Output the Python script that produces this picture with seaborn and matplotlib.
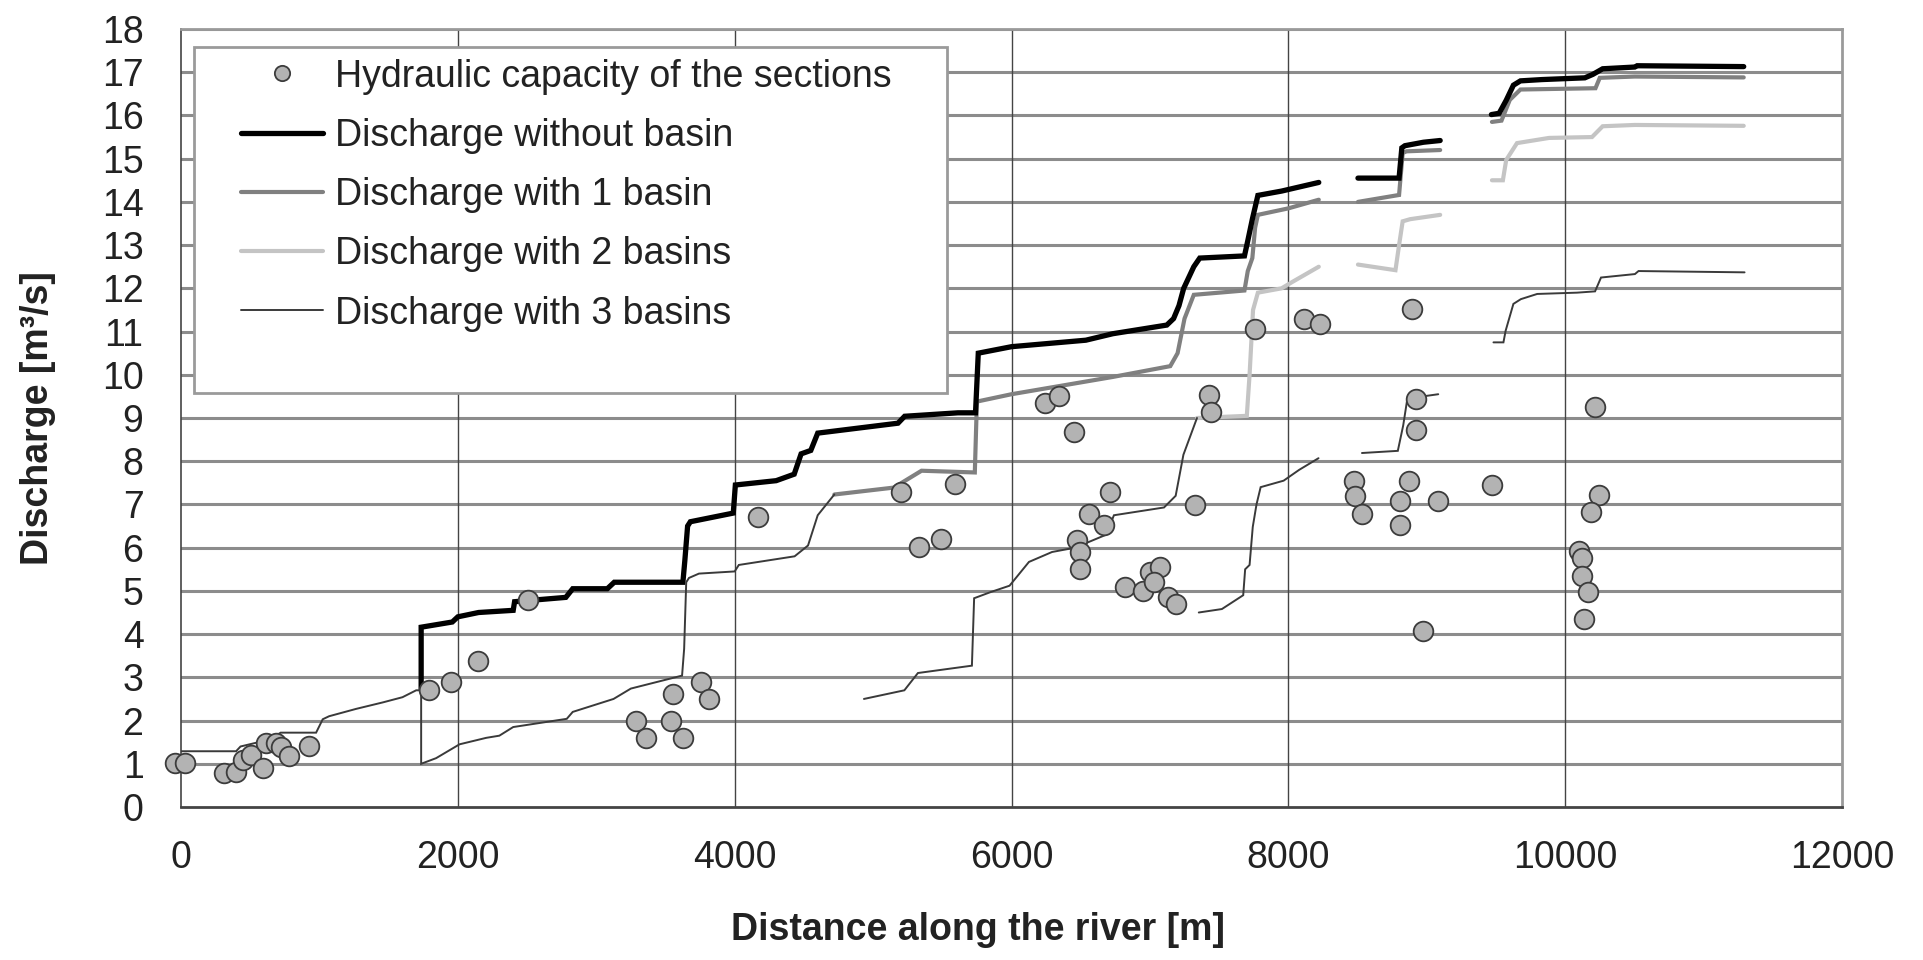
import numpy as np
import pandas as pd
import matplotlib
matplotlib.use("Agg")
import matplotlib.pyplot as plt
from matplotlib.lines import Line2D
from matplotlib.patches import Rectangle
import seaborn as sns

# ---------------- data ----------------
# Hydraulic capacity of the sections (circles)
cap_x = [-40, 30, 313, 398, 446, 506, 590, 615, 687, 723, 783, 928, 1795, 1952, 2145, 2509,
         3285, 3358, 3539, 3551, 3624, 3757, 3818, 4170, 5200, 5590, 5330, 5490, 6240, 6343,
         6450, 6711, 6558, 6670, 6474, 6494, 6494, 6823, 6949, 7004, 7074, 7032, 7130, 7186,
         7325, 7430, 7444, 7761, 8110, 8232, 8890, 8920, 8920, 8478, 8485, 8533, 8870, 8810,
         8810, 9080, 9475, 8975, 10216, 10245, 10187, 10101, 10121, 10121, 10167, 10138]
cap_y = [1.02, 1.02, 0.78, 0.80, 1.09, 1.21, 0.90, 1.48, 1.48, 1.39, 1.17, 1.41, 2.70, 2.90,
         3.38, 4.78, 2.0, 1.6, 2.0, 2.62, 1.6, 2.9, 2.5, 6.72, 7.28, 7.47, 6.01, 6.21, 9.35,
         9.52, 8.68, 7.29, 6.78, 6.53, 6.18, 5.89, 5.51, 5.08, 5.0, 5.43, 5.55, 5.2, 4.85,
         4.69, 6.98, 9.53, 9.13, 11.05, 11.29, 11.18, 11.53, 9.45, 8.72, 7.55, 7.2, 6.77,
         7.54, 7.09, 6.52, 7.09, 7.46, 4.07, 9.26, 7.21, 6.83, 5.92, 5.75, 5.35, 4.98, 4.35]

# Discharge without basin (segments)
q0_seg1_x = [1735, 1735, 1960, 2000, 2150, 2400, 2410, 2780, 2830, 3080, 3130, 3626, 3640, 3660,
             3680, 3990, 4005, 4300, 4430, 4480, 4550, 4600, 5180, 5228, 5613, 5740, 5760, 6000,
             6537, 6732, 7122, 7171, 7210, 7244, 7317, 7360, 7683, 7707, 7740, 7780, 7951, 8220]
q0_seg1_y = [2.73, 4.16, 4.28, 4.4, 4.5, 4.55, 4.75, 4.85, 5.05, 5.05, 5.2, 5.2, 5.7, 6.5,
             6.6, 6.8, 7.45, 7.55, 7.7, 8.17, 8.25, 8.65, 8.88, 9.04, 9.12, 9.12, 10.5, 10.65,
             10.8, 10.95, 11.15, 11.3, 11.6, 12.0, 12.5, 12.7, 12.75, 13.1, 13.6, 14.15, 14.25, 14.45]
q0_seg2_x = [8503, 8800, 8820, 8842, 8976, 9097]
q0_seg2_y = [14.55, 14.55, 15.25, 15.3, 15.38, 15.42]
q0_seg3_x = [9467, 9523, 9574, 9626, 9677, 9832, 10142, 10200, 10271, 10503, 10520, 11290]
q0_seg3_y = [16.02, 16.05, 16.35, 16.7, 16.8, 16.83, 16.87, 16.95, 17.08, 17.12, 17.15, 17.13]

# Discharge with 1 basin
q1_seg1_x = [4720, 5150, 5350, 5735, 5750, 6000, 6366, 6732, 7147, 7200, 7250, 7317, 7683,
             7707, 7740, 7760, 7780, 8000, 8220]
q1_seg1_y = [7.23, 7.39, 7.78, 7.74, 9.38, 9.55, 9.75, 9.95, 10.2, 10.5, 11.3, 11.85, 11.95,
             12.4, 12.7, 13.4, 13.7, 13.85, 14.05]
q1_seg2_x = [8503, 8800, 8826, 8854, 9097]
q1_seg2_y = [14.0, 14.16, 15.13, 15.17, 15.2]
q1_seg3_x = [9471, 9540, 9600, 9677, 10219, 10250, 10503, 11290]
q1_seg3_y = [15.85, 15.88, 16.36, 16.6, 16.63, 16.87, 16.9, 16.88]

# Discharge with 2 basins
q2_seg1_x = [7340, 7700, 7720, 7745, 7780, 7951, 8030, 8220]
q2_seg1_y = [9.0, 9.05, 10.0, 11.5, 11.9, 12.0, 12.15, 12.5]
q2_seg2_x = [8503, 8774, 8800, 8826, 8880, 9097]
q2_seg2_y = [12.55, 12.42, 13.0, 13.55, 13.6, 13.7]
q2_seg3_x = [9471, 9550, 9574, 9652, 9884, 10194, 10271, 10503, 11290]
q2_seg3_y = [14.5, 14.5, 14.97, 15.36, 15.48, 15.5, 15.75, 15.78, 15.76]

# Discharge with 3 basins
q3_seg1_x = [0, 398, 430, 639, 720, 976, 1024, 1070, 1265, 1458, 1600, 1699, 1735, 1735, 1843,
             2012, 2205, 2300, 2400, 2787, 2830, 3125, 3250, 3620, 3635, 3650, 3670, 3742, 4000,
             4030, 4433, 4530, 4600, 4720]
q3_seg1_y = [1.29, 1.29, 1.4, 1.56, 1.72, 1.72, 2.03, 2.1, 2.27, 2.42, 2.54, 2.7, 2.7, 1.0, 1.13,
             1.45, 1.6, 1.65, 1.85, 2.04, 2.2, 2.5, 2.74, 3.04, 3.66, 5.2, 5.3, 5.4, 5.45,
             5.6, 5.8, 6.05, 6.75, 7.23]
q3_seg2_x = [4934, 5226, 5324, 5714, 5730, 5847, 5986, 6126, 6293, 6460, 6684, 6740, 7102, 7186,
             7242, 7340]
q3_seg2_y = [2.5, 2.7, 3.1, 3.27, 4.83, 4.97, 5.12, 5.67, 5.9, 6.0, 6.3, 6.75, 6.93, 7.2, 8.15, 9.0]
q3_seg3_x = [7353, 7520, 7674, 7688, 7720, 7743, 7770, 7800, 7966, 8078, 8218]
q3_seg3_y = [4.5, 4.58, 4.9, 5.5, 5.6, 6.48, 7.0, 7.4, 7.55, 7.8, 8.07]
q3_seg4_x = [8532, 8791, 8830, 8860, 9083]
q3_seg4_y = [8.19, 8.24, 8.83, 9.45, 9.55]
q3_seg5_x = [9482, 9554, 9570, 9626, 9680, 9798, 10086, 10216, 10259, 10504, 10530, 11296]
q3_seg5_y = [10.75, 10.75, 11.02, 11.64, 11.75, 11.87, 11.9, 11.93, 12.25, 12.33, 12.4, 12.37]

series_labels = ["Hydraulic capacity of the sections", "Discharge without basin",
                 "Discharge with 1 basin", "Discharge with 2 basins", "Discharge with 3 basins"]
x_ticks = [0, 2000, 4000, 6000, 8000, 10000, 12000]
y_ticks = list(range(0, 19))

# ---------------- style ----------------
sns.set_style("white")
plt.rcParams["font.family"] = ["Liberation Sans", "DejaVu Sans"]

FS = 27
fig = plt.figure(figsize=(19.23, 9.6), dpi=100)
L, R, T, B = 181, 1842, 29, 807
ax = fig.add_axes([L / 1923, 1 - B / 960, (R - L) / 1923, (B - T) / 960])

styles = {
    "q0": dict(color="#000000", lw=3.8),
    "q1": dict(color="#808080", lw=3.0),
    "q2": dict(color="#c4c4c4", lw=3.0),
    "q3": dict(color="#3a3a3a", lw=1.4),
}
segments = [
    ("q2", q2_seg1_x, q2_seg1_y), ("q2", q2_seg2_x, q2_seg2_y), ("q2", q2_seg3_x, q2_seg3_y),
    ("q1", q1_seg1_x, q1_seg1_y), ("q1", q1_seg2_x, q1_seg2_y), ("q1", q1_seg3_x, q1_seg3_y),
    ("q0", q0_seg1_x, q0_seg1_y), ("q0", q0_seg2_x, q0_seg2_y), ("q0", q0_seg3_x, q0_seg3_y),
    ("q3", q3_seg1_x, q3_seg1_y), ("q3", q3_seg2_x, q3_seg2_y), ("q3", q3_seg3_x, q3_seg3_y),
    ("q3", q3_seg4_x, q3_seg4_y), ("q3", q3_seg5_x, q3_seg5_y),
]
for key, xs, ys in segments:
    df = pd.DataFrame({"x": xs, "y": ys})
    sns.lineplot(data=df, x="x", y="y", sort=False, estimator=None, ax=ax, legend=False,
                 color=styles[key]["color"], linewidth=styles[key]["lw"],
                 solid_joinstyle="miter", zorder=3)

cap_df = pd.DataFrame({"x": cap_x, "y": cap_y})
sns.scatterplot(data=cap_df, x="x", y="y", ax=ax, s=200, color="#b3b3b3",
                edgecolor="#3c3c3c", linewidth=1.3, zorder=4, legend=False, clip_on=False)

ax.set_xlim(0, 12000)
ax.set_ylim(0, 18)
ax.set_xticks(x_ticks)
ax.set_yticks(y_ticks)
ax.set_xticklabels([str(v) for v in x_ticks])
ax.set_yticklabels([str(v) for v in y_ticks])

ax.grid(False)
for yv in y_ticks[1:]:
    ax.axhline(yv, color="#8c8c8c", lw=2.2, zorder=0.5)
for xv in x_ticks[1:-1]:
    ax.axvline(xv, color="#444444", lw=1.0, zorder=0.6)

for side in ["top", "right"]:
    ax.spines[side].set_color("#9a9a9a")
    ax.spines[side].set_linewidth(2.0)
ax.spines["left"].set_color("#444444")
ax.spines["left"].set_linewidth(1.2)
ax.spines["bottom"].set_color("#444444")
ax.spines["bottom"].set_linewidth(2.0)

ax.tick_params(axis="y", direction="inout", length=20, width=1.2, color="#444444",
               labelsize=FS, labelcolor="#222222", pad=17)
ax.tick_params(axis="x", direction="inout", length=20, width=1.2, color="#444444",
               labelsize=FS, labelcolor="#222222", pad=14)

ax.set_xlabel("Distance along the river [m]", fontsize=FS, fontweight="bold", color="#222222")
ax.set_ylabel("Discharge [m³/s]", fontsize=FS, fontweight="bold", color="#222222")
ax.xaxis.set_label_coords(0.48, -0.135)
ax.yaxis.set_label_coords(-0.075, 0.5)

# legend frame
ax.add_patch(Rectangle((0.0078, 0.5321), 0.4534, 0.4448, transform=ax.transAxes,
                       facecolor="white", edgecolor="#9a9a9a", lw=2.0, zorder=4.5))
handles = [
    Line2D([], [], ls="none", marker="o", markersize=11, markerfacecolor="#b3b3b3",
           markeredgecolor="#3c3c3c", markeredgewidth=1.3),
    Line2D([], [], **{"color": styles["q0"]["color"], "lw": styles["q0"]["lw"]}),
    Line2D([], [], **{"color": styles["q1"]["color"], "lw": styles["q1"]["lw"]}),
    Line2D([], [], **{"color": styles["q2"]["color"], "lw": styles["q2"]["lw"]}),
    Line2D([], [], **{"color": styles["q3"]["color"], "lw": styles["q3"]["lw"]}),
]
leg = ax.legend(handles, series_labels, loc="upper left", bbox_to_anchor=(0.036, 0.962),
                frameon=False, fontsize=FS, handlelength=2.2, handletextpad=0.3,
                labelspacing=0.62, borderpad=0, borderaxespad=0)
for t in leg.get_texts():
    t.set_color("#222222")
leg.set_zorder(5)

fig.savefig("out.png", dpi=100)
